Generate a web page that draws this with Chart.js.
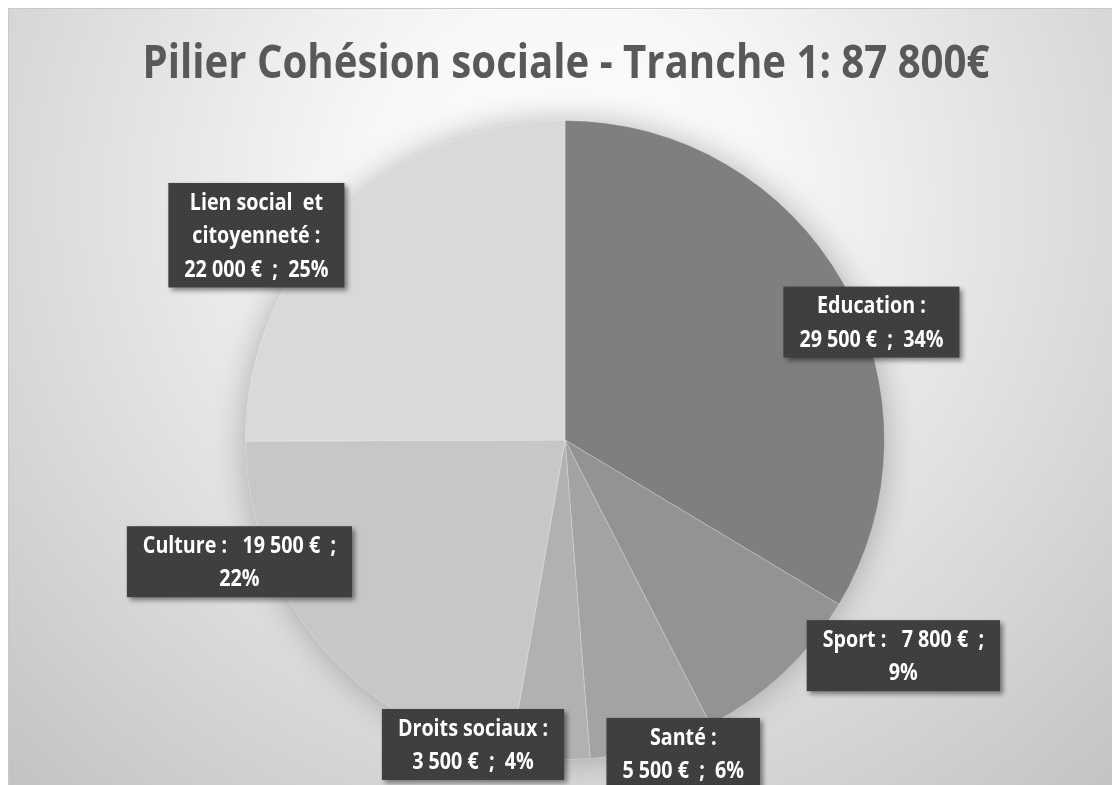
<!DOCTYPE html>
<html><head><meta charset="utf-8">
<script src="https://cdn.jsdelivr.net/npm/chart.js@4.4.1/dist/chart.umd.min.js"></script>
<style>
html,body{margin:0;padding:0;background:#fff;overflow:hidden;width:1112px;height:785px;}
#wrap{position:absolute;left:8px;top:8px;width:1114px;height:777px;}
</style></head><body>
<div id="wrap"><canvas id="c" width="1114" height="777"></canvas></div>
<script>
// ---- data ----
const chartTitle = 'Pilier Cohésion sociale - Tranche 1: 87 800€';
const categories = ['Education', 'Sport', 'Santé', 'Droits sociaux', 'Culture', 'Lien social et citoyenneté'];
const values = [29500, 7800, 5500, 3500, 19500, 22000];
const colors = ['#7f7f7f', '#939393', '#a3a3a3', '#b1b1b1', '#c7c7c7', '#d9d9d9'];

// ---- label layout (not data) ----
const labelWrap = [2, 1, 2, 2, 1, 3];
const labelAnchor = [[0.959, -0.369], [1.059, 0.675], [0.37, 0.981], [-0.288, 0.953], [-1.019, 0.381], [-0.966, -0.641]];

const total = values.reduce((a, b) => a + b, 0);
const fmt = v => String(v).replace(/\B(?=(\d{3})+(?!\d))/g, ' ') + ' €';
const pct = v => Math.round(v / total * 100) + '%';
function labelLines(i) {
  const n = categories[i], a = fmt(values[i]), p = pct(values[i]);
  if (labelWrap[i] === 1) return [n + ' :   ' + a + '  ;', p];
  if (labelWrap[i] === 3) {
    const k = n.lastIndexOf(' ');
    return [n.slice(0, k).replace(' et', '  et'), n.slice(k + 1) + ' :', a + '  ;  ' + p];
  }
  return [n + ' :', a + '  ;  ' + p];
}

// dotted pattern for label boxes
const pc = document.createElement('canvas'); pc.width = 4; pc.height = 4;
const pctx = pc.getContext('2d');
pctx.fillStyle = '#3d3d3d'; pctx.fillRect(0, 0, 4, 4);
pctx.fillStyle = '#4b4b4b'; pctx.fillRect(1, 1, 1, 1); pctx.fillRect(3, 3, 1, 1);

const bgPlugin = {
  id: 'bg',
  beforeDraw(chart) {
    const ctx = chart.ctx, w = chart.width, h = chart.height;
    ctx.save();
    const g = ctx.createRadialGradient(w / 2, 190, 0, w / 2, 190, 820);
    g.addColorStop(0, '#ffffff');
    g.addColorStop(0.25, '#f7f7f7');
    g.addColorStop(1, '#c2c2c2');
    ctx.fillStyle = g;
    ctx.fillRect(0, 0, w, h);
    ctx.strokeStyle = '#c8c8c8';
    ctx.lineWidth = 1;
    ctx.beginPath(); ctx.moveTo(0.5, h); ctx.lineTo(0.5, 0.5); ctx.lineTo(w, 0.5); ctx.stroke();
    // title
    ctx.font = 'bold 47px "Open Sans"';
    const tw = ctx.measureText(chartTitle).width;
    ctx.translate(w / 2 + 1, 70);
    ctx.scale(847 / tw, 1);
    ctx.fillStyle = '#595959';
    ctx.textAlign = 'center';
    ctx.textBaseline = 'alphabetic';
    ctx.fillText(chartTitle, 0, 0);
    ctx.restore();
  },
  beforeDatasetsDraw(chart) {
    const arc = chart.getDatasetMeta(0).data[0];
    if (!arc) return;
    const ctx = chart.ctx;
    ctx.save();
    ctx.shadowColor = 'rgba(0,0,0,0.3)';
    ctx.shadowBlur = 34;
    ctx.fillStyle = '#cccccc';
    ctx.beginPath();
    ctx.arc(arc.x, arc.y, arc.outerRadius - 2, 0, Math.PI * 2);
    ctx.fill();
    ctx.restore();
  }
};

const labelPlugin = {
  id: 'boxLabels',
  afterDatasetsDraw(chart) {
    const ctx = chart.ctx;
    const meta = chart.getDatasetMeta(0);
    const sx = 0.82, lh = 33.5, padX = 16, padY = 2;
    const pat = ctx.createPattern(pc, 'repeat');
    meta.data.forEach((arc, i) => {
      const r = arc.outerRadius;
      const cx = arc.x + labelAnchor[i][0] * r;
      const cy = arc.y + labelAnchor[i][1] * r;
      const lines = labelLines(i);
      ctx.save();
      ctx.font = 'bold 24px "Open Sans"';
      const tw = Math.max(...lines.map(l => ctx.measureText(l).width)) * sx;
      const bw = tw + padX * 2, bh = lines.length * lh + padY * 2;
      const bx = cx - bw / 2, by = cy - bh / 2;
      ctx.shadowColor = 'rgba(0,0,0,0.45)';
      ctx.shadowBlur = 5;
      ctx.shadowOffsetX = 3;
      ctx.shadowOffsetY = 3;
      ctx.fillStyle = pat;
      ctx.fillRect(bx, by, bw, bh);
      ctx.shadowColor = 'transparent';
      ctx.fillStyle = '#ffffff';
      ctx.textAlign = 'center';
      ctx.textBaseline = 'middle';
      lines.forEach((l, k) => {
        ctx.save();
        ctx.translate(cx, by + padY + lh * (k + 0.5) + 1);
        ctx.scale(sx, 1);
        ctx.fillText(l, 0, 0);
        ctx.restore();
      });
      ctx.restore();
    });
  }
};

new Chart(document.getElementById('c'), {
  type: 'pie',
  data: {
    labels: categories,
    datasets: [{
      data: values,
      backgroundColor: colors,
      borderColor: 'rgba(255,255,255,0.25)',
      borderWidth: 1,
      hoverOffset: 0
    }]
  },
  options: {
    responsive: false,
    animation: false,
    devicePixelRatio: 1,
    layout: { padding: { top: 112, bottom: 25, left: 0, right: 0 } },
    plugins: {
      legend: { display: false },
      title: { display: false },
      tooltip: { enabled: false }
    }
  },
  plugins: [bgPlugin, labelPlugin]
});
</script>
</body></html>
